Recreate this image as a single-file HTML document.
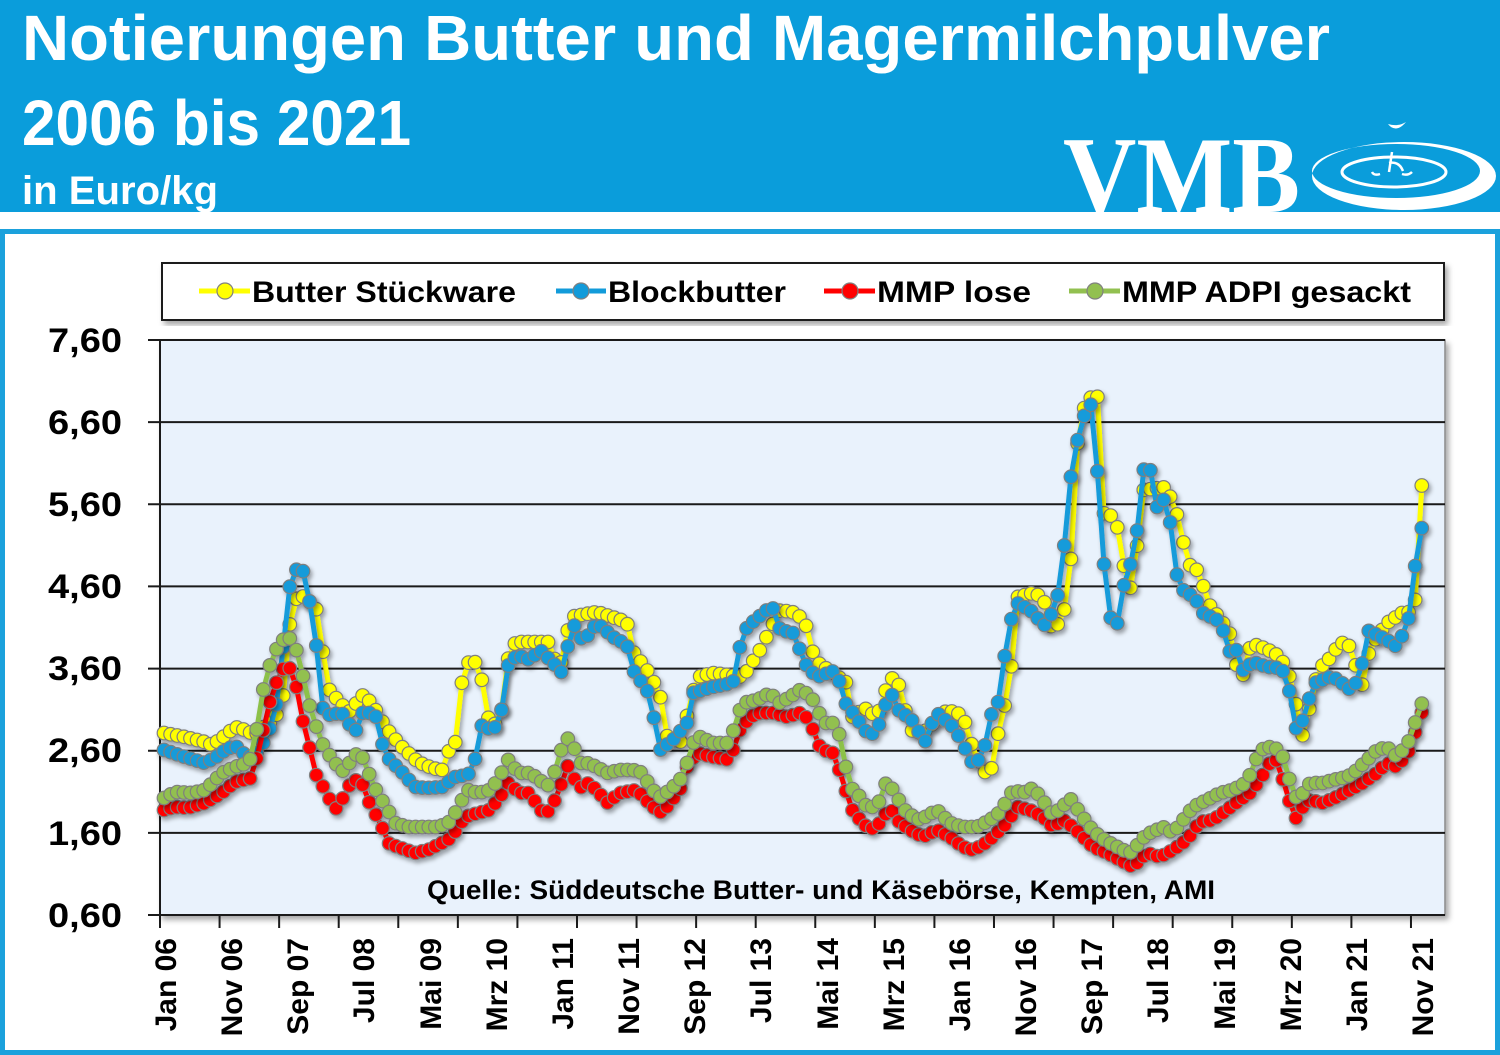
<!DOCTYPE html>
<html><head><meta charset="utf-8">
<style>
html,body{margin:0;padding:0;background:#fff;width:1500px;height:1055px;overflow:hidden;}
svg{display:block;}
text{font-family:"Liberation Sans",sans-serif;}
</style></head><body>
<svg id="c" width="1500" height="1055" viewBox="0 0 1500 1055" xmlns="http://www.w3.org/2000/svg">
<defs>
<filter id="sh" x="-3%" y="-5%" width="106%" height="115%"><feDropShadow dx="3" dy="4" stdDeviation="3" flood-color="#000" flood-opacity="0.35"/></filter>
<filter id="ss" x="-3%" y="-5%" width="106%" height="115%"><feDropShadow dx="2" dy="3" stdDeviation="2" flood-color="#000" flood-opacity="0.35"/></filter>
</defs>
<!-- header -->
<rect x="0" y="0" width="1500" height="212" fill="#0A9DDB"/>
<text x="22" y="60" font-size="64" font-weight="bold" fill="#fff" textLength="1308" lengthAdjust="spacingAndGlyphs">Notierungen Butter und Magermilchpulver</text>
<text x="22" y="145" font-size="64" font-weight="bold" fill="#fff" textLength="389" lengthAdjust="spacingAndGlyphs">2006 bis 2021</text>
<text x="22" y="204" font-size="40" font-weight="bold" fill="#fff" textLength="196" lengthAdjust="spacingAndGlyphs">in Euro/kg</text>
<text x="1063" y="212" font-size="109" font-weight="bold" fill="#fff" style="font-family:'Liberation Serif',serif" textLength="237" lengthAdjust="spacingAndGlyphs">VMB</text>
<path fill="#fff" fill-rule="evenodd" d="M1312,176 a92,34 0 1,0 184,0 a92,34 0 1,0 -184,0 Z M1312,171 a84,27 0 1,0 168,0 a84,27 0 1,0 -168,0 Z"/>
<ellipse cx="1394" cy="172" rx="52" ry="15" fill="none" stroke="#fff" stroke-width="3"/>
<path d="M1388,124 q8,10 18,-2 q-8,5 -18,2 Z" fill="#fff"/>
<path d="M1392,152 l-3,20 M1389,163 q10,-2 14,8 M1380,174 q-6,2 -8,-2 M1402,174 q6,2 10,-2" stroke="#fff" stroke-width="2.5" fill="none"/>
<!-- frame -->
<rect x="2.5" y="231.5" width="1495" height="821" fill="#fff" stroke="#1BA1DC" stroke-width="5"/>
<!-- legend -->
<rect x="162" y="263" width="1282" height="57" fill="#fff" stroke="#1a1a1a" stroke-width="2" filter="url(#sh)"/>
<line x1="199" y1="291" x2="250" y2="291" stroke="#FFFF00" stroke-width="5"/>
<circle cx="225" cy="291" r="8" fill="#FFFF00" stroke="#808080" stroke-width="1.2"/>
<text x="252" y="302" font-size="30" font-weight="bold" fill="#000" textLength="264" lengthAdjust="spacingAndGlyphs">Butter Stückware</text>
<line x1="556" y1="291" x2="606" y2="291" stroke="#129BDA" stroke-width="5"/>
<circle cx="581" cy="291" r="8" fill="#129BDA" stroke="#808080" stroke-width="1.2"/>
<text x="608" y="302" font-size="30" font-weight="bold" fill="#000" textLength="178" lengthAdjust="spacingAndGlyphs">Blockbutter</text>
<line x1="824" y1="291" x2="875" y2="291" stroke="#FF0000" stroke-width="5"/>
<circle cx="850" cy="291" r="8" fill="#FF0000" stroke="#808080" stroke-width="1.2"/>
<text x="877" y="302" font-size="30" font-weight="bold" fill="#000" textLength="154" lengthAdjust="spacingAndGlyphs">MMP lose</text>
<line x1="1069" y1="291" x2="1120" y2="291" stroke="#92C050" stroke-width="5"/>
<circle cx="1095" cy="291" r="8" fill="#92C050" stroke="#808080" stroke-width="1.2"/>
<text x="1122" y="302" font-size="30" font-weight="bold" fill="#000" textLength="289" lengthAdjust="spacingAndGlyphs">MMP ADPI gesackt</text>
<!-- plot area -->
<rect x="160" y="340" width="1285" height="575" fill="#E9F2FC" stroke="#8a8a8a" stroke-width="1.5" filter="url(#sh)"/>
<g stroke="#1a1a1a" stroke-width="2">
<line x1="148" y1="340" x2="1445" y2="340"/>
<line x1="148" y1="422.1" x2="1445" y2="422.1"/>
<line x1="148" y1="504.3" x2="1445" y2="504.3"/>
<line x1="148" y1="586.4" x2="1445" y2="586.4"/>
<line x1="148" y1="668.6" x2="1445" y2="668.6"/>
<line x1="148" y1="750.7" x2="1445" y2="750.7"/>
<line x1="148" y1="832.9" x2="1445" y2="832.9"/>
<line x1="148" y1="915" x2="1445" y2="915"/>
<line x1="160" y1="340" x2="160" y2="927"/>
</g>
<g id="xt" stroke="#1a1a1a" stroke-width="2"></g>
<g font-size="34" font-weight="bold" fill="#000" text-anchor="end">
<text x="122" y="352" textLength="74" lengthAdjust="spacingAndGlyphs">7,60</text>
<text x="122" y="434" textLength="74" lengthAdjust="spacingAndGlyphs">6,60</text>
<text x="122" y="516" textLength="74" lengthAdjust="spacingAndGlyphs">5,60</text>
<text x="122" y="598" textLength="74" lengthAdjust="spacingAndGlyphs">4,60</text>
<text x="122" y="680" textLength="74" lengthAdjust="spacingAndGlyphs">3,60</text>
<text x="122" y="762" textLength="74" lengthAdjust="spacingAndGlyphs">2,60</text>
<text x="122" y="845" textLength="74" lengthAdjust="spacingAndGlyphs">1,60</text>
<text x="122" y="927" textLength="74" lengthAdjust="spacingAndGlyphs">0,60</text>
</g>
<g font-size="30" font-weight="bold" fill="#000" text-anchor="end">
<text transform="translate(176,938) rotate(-90)">Jan 06</text>
<text transform="translate(242,938) rotate(-90)">Nov 06</text>
<text transform="translate(308,938) rotate(-90)">Sep 07</text>
<text transform="translate(374,938) rotate(-90)">Jul 08</text>
<text transform="translate(441,938) rotate(-90)">Mai 09</text>
<text transform="translate(507,938) rotate(-90)">Mrz 10</text>
<text transform="translate(573,938) rotate(-90)">Jan 11</text>
<text transform="translate(639,938) rotate(-90)">Nov 11</text>
<text transform="translate(705,938) rotate(-90)">Sep 12</text>
<text transform="translate(771,938) rotate(-90)">Jul 13</text>
<text transform="translate(838,938) rotate(-90)">Mai 14</text>
<text transform="translate(904,938) rotate(-90)">Mrz 15</text>
<text transform="translate(970,938) rotate(-90)">Jan 16</text>
<text transform="translate(1036,938) rotate(-90)">Nov 16</text>
<text transform="translate(1102,938) rotate(-90)">Sep 17</text>
<text transform="translate(1168,938) rotate(-90)">Jul 18</text>
<text transform="translate(1235,938) rotate(-90)">Mai 19</text>
<text transform="translate(1301,938) rotate(-90)">Mrz 20</text>
<text transform="translate(1367,938) rotate(-90)">Jan 21</text>
<text transform="translate(1433,938) rotate(-90)">Nov 21</text>
</g>
<g id="series"></g>
<text x="427" y="899" font-size="27" font-weight="bold" fill="#000" textLength="788" lengthAdjust="spacingAndGlyphs">Quelle: Süddeutsche Butter- und Käsebörse, Kempten, AMI</text>
</svg>
<script>
(function(){
var ns='http://www.w3.org/2000/svg';
var xt=document.getElementById('xt');
for(var k=0;k<=21;k++){var x=160+k*59.57;var l=document.createElementNS(ns,'line');l.setAttribute('x1',x);l.setAttribute('x2',x);l.setAttribute('y1',915);l.setAttribute('y2',928);xt.appendChild(l);}
var Y=[[164,733],[185,737],[205,742],[212,745],[222,738],[235,727],[245,730],[255,735],[262,728],[270,723],[282,708],[290,622],[298,593],[308,600],[317,610],[328,688],[340,703],[350,712],[362,695],[372,703],[380,718],[390,733],[403,748],[418,762],[432,768],[442,770],[448,752],[455,745],[460,695],[465,663],[475,662],[480,668],[487,715],[492,725],[500,722],[510,645],[520,642],[550,642],[557,668],[563,660],[570,617],[597,612],[627,622],[632,650],[647,670],[660,693],[665,735],[680,743],[697,677],[713,673],[743,677],[760,650],[780,610],[797,613],[807,627],[812,650],[817,662],[847,683],[853,720],[863,707],[877,717],[890,677],[898,682],[903,700],[910,730],[923,733],[947,710],[963,715],[970,740],[983,773],[992,768],[995,747],[1003,713],[1010,683],[1017,597],[1033,593],[1043,597],[1053,633],[1060,620],[1067,603],[1072,547],[1076,453],[1083,410],[1097,388],[1103,513],[1115,517],[1123,553],[1127,610],[1137,547],[1143,490],[1167,487],[1173,505],[1180,522],[1187,563],[1197,570],[1203,585],[1208,603],[1223,623],[1232,637],[1240,687],[1250,647],[1257,645],[1275,653],[1287,667],[1293,690],[1303,737],[1318,670],[1330,658],[1340,643],[1348,643],[1363,687],[1370,647],[1387,623],[1402,613],[1409,612],[1415,603],[1422,482]];
var B=[[164,750],[185,757],[205,763],[215,758],[228,748],[237,747],[248,758],[258,752],[265,740],[275,717],[282,660],[287,605],[292,572],[302,567],[308,592],[315,632],[322,707],[328,715],[342,713],[355,733],[362,713],[375,713],[382,743],[388,758],[402,772],[415,787],[428,788],[442,787],[455,777],[468,775],[475,760],[480,725],[492,730],[500,723],[507,667],[517,655],[530,660],[540,650],[557,667],[562,673],[573,623],[583,642],[597,623],[613,637],[627,645],[633,670],[647,690],[653,713],[660,750],[673,740],[687,723],[693,693],[713,687],[733,683],[740,647],[747,627],[767,610],[775,608],[780,630],[793,633],[800,650],[807,667],[817,677],[837,670],[843,700],[853,713],[870,737],[880,723],[890,690],[900,713],[910,717],[925,742],[930,727],[937,713],[953,727],[963,743],[970,762],[980,760],[985,745],[990,717],[998,703],[1003,667],[1010,623],[1017,603],[1030,610],[1037,617],[1043,627],[1050,617],[1057,600],[1063,560],[1070,483],[1075,450],[1082,423],[1090,397],[1097,465],[1103,555],[1110,617],[1117,625],[1123,588],[1130,567],[1137,532],[1143,470],[1150,467],[1155,510],[1163,498],[1170,520],[1175,570],[1183,590],[1195,598],[1203,613],[1217,620],[1223,630],[1230,652],[1237,650],[1243,670],[1253,662],[1267,667],[1280,668],[1288,677],[1293,727],[1300,730],[1308,702],[1315,683],[1330,677],[1340,680],[1347,690],[1355,685],[1362,665],[1367,630],[1377,635],[1387,640],[1397,647],[1408,623],[1415,567],[1422,527]];
var R=[[164,810],[175,807],[188,808],[205,803],[222,793],[235,782],[252,778],[258,753],[265,723],[272,693],[282,670],[288,665],[295,678],[300,710],[308,740],[315,773],[325,790],[335,810],[342,800],[348,787],[355,780],[362,783],[368,800],[375,813],[382,827],[388,843],[398,847],[415,853],[428,850],[442,843],[448,840],[455,832],[465,817],[478,813],[490,810],[503,793],[510,780],[517,793],[530,793],[540,810],[547,813],[555,800],[563,780],[570,760],[577,790],[587,783],[597,790],[607,803],[620,793],[637,790],[643,797],[653,807],[662,813],[670,803],[680,790],[687,767],[697,753],[713,757],[730,760],[740,730],[750,717],[760,713],[773,713],[787,717],[800,713],[810,720],[817,743],[823,750],[833,753],[843,780],[850,807],[860,820],[870,830],[880,823],[890,807],[897,820],[910,830],[923,837],[937,830],[950,837],[963,847],[973,850],[983,845],[993,837],[1007,823],[1017,807],[1030,810],[1043,817],[1053,827],[1063,820],[1073,827],[1083,837],[1093,847],[1107,853],[1120,860],[1133,867],[1147,853],[1160,857],[1173,850],[1187,840],[1200,822],[1213,820],[1227,810],[1240,800],[1250,793],[1260,780],[1270,763],[1277,760],[1283,780],[1290,803],[1295,820],[1300,810],[1310,800],[1323,803],[1337,797],[1350,790],[1363,783],[1377,773],[1387,763],[1397,767],[1408,753],[1415,733],[1422,712]];
var G=[[164,798],[175,792],[192,793],[205,790],[222,773],[235,767],[248,763],[255,750],[258,713],[265,682],[273,655],[282,640],[292,638],[300,660],[307,697],[315,723],[322,743],[328,753],[335,763],[345,773],[352,757],[360,752],[367,767],[372,783],[380,797],[388,810],[395,823],[408,827],[422,827],[438,827],[448,823],[455,813],[462,800],[468,790],[478,793],[490,790],[500,777],[507,758],[513,767],[520,773],[530,773],[540,780],[547,787],[557,767],[563,743],[572,735],[577,763],[587,763],[597,767],[607,773],[620,770],[633,770],[643,773],[650,787],[660,797],[670,790],[680,780],[687,763],[693,743],[700,737],[713,743],[730,743],[737,717],[743,703],[757,700],[770,693],[780,703],[790,697],[800,690],[810,695],[817,707],[823,723],[837,723],[843,753],[850,787],[857,793],[867,807],[877,807],[887,780],[897,797],[907,813],[920,820],[937,810],[950,823],[963,827],[977,827],[990,820],[1000,812],[1013,790],[1023,793],[1033,788],[1043,800],[1050,813],[1060,810],[1070,798],[1080,813],[1090,827],[1100,837],[1110,843],[1123,850],[1133,853],[1140,840],[1150,833],[1163,827],[1173,833],[1183,820],[1193,807],[1207,800],[1220,793],[1233,790],[1247,782],[1253,767],[1260,750],[1270,747],[1280,750],[1287,767],[1293,797],[1300,797],[1310,783],[1323,783],[1333,780],[1347,777],[1357,770],[1367,760],[1377,750],[1387,747],[1397,757],[1408,743],[1415,723],[1422,703]];
function interp(a,x){if(x<=a[0][0])return a[0][1];for(var j=1;j<a.length;j++){if(x<=a[j][0]){var t=(x-a[j-1][0])/(a[j][0]-a[j-1][0]);return a[j-1][1]+t*(a[j][1]-a[j-1][1]);}}return a[a.length-1][1];}
var S=[{p:Y,c:'#FFFF00',l:'#FFFF00'},{p:B,c:'#129BDA',l:'#129BDA'},{p:R,c:'#FF0000',l:'#FF0000'},{p:G,c:'#92C050',l:'#8CC14A'}];
var g0=document.getElementById('series');
S.forEach(function(s){
 var g=document.createElementNS(ns,'g');g.setAttribute('filter','url(#ss)');
 var pts=[];for(var i=0;i<=190;i++){var x=164+i*6.62;pts.push([x,interp(s.p,x)]);}
 var pl=document.createElementNS(ns,'polyline');
 pl.setAttribute('points',pts.map(function(p){return p[0].toFixed(1)+','+p[1].toFixed(1);}).join(' '));
 pl.setAttribute('fill','none');pl.setAttribute('stroke',s.l);pl.setAttribute('stroke-width','5');pl.setAttribute('stroke-linejoin','round');
 g.appendChild(pl);
 pts.forEach(function(p){var c=document.createElementNS(ns,'circle');c.setAttribute('cx',p[0].toFixed(1));c.setAttribute('cy',p[1].toFixed(1));c.setAttribute('r','6.8');c.setAttribute('fill',s.c);c.setAttribute('stroke','#7f7f7f');c.setAttribute('stroke-width','1.2');g.appendChild(c);});
 g0.appendChild(g);
});
})();
</script>
</body></html>
